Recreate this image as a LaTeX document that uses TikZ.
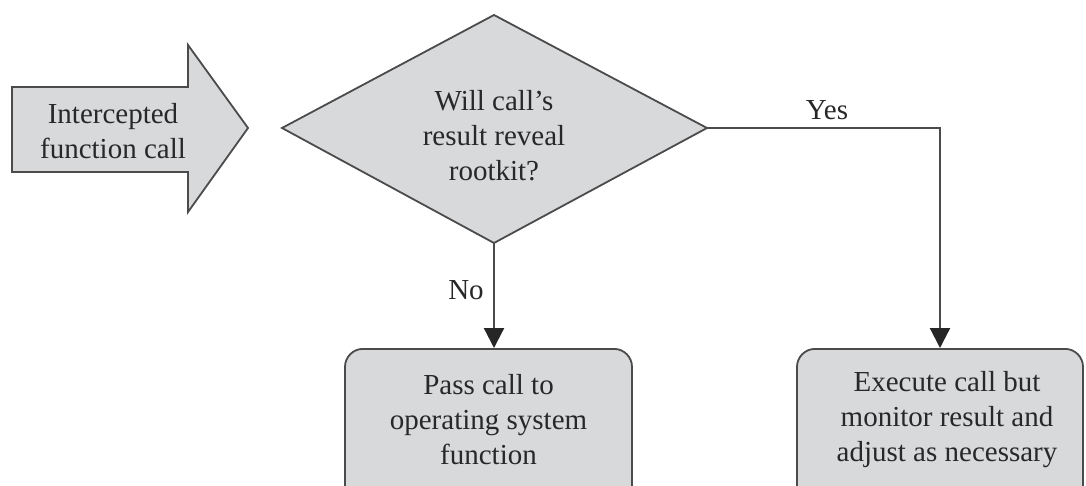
\documentclass[tikz,border=0pt]{standalone}
\usepackage{fontspec}
\setmainfont{Liberation Serif}
\usetikzlibrary{arrows.meta}
\definecolor{shapefill}{RGB}{216,217,219}
\definecolor{edgegray}{RGB}{75,75,75}
\definecolor{textgray}{RGB}{40,40,40}
\begin{document}
\begin{tikzpicture}[x=1pt,y=-1pt,
  shapeline/.style={draw=edgegray, line width=1.8pt, fill=shapefill, line join=miter},
  boxshape/.style={draw=edgegray, line width=1.8pt, fill=shapefill, rounded corners=18pt, inner sep=0pt},
  lbl/.style={font=\fontsize{29}{35}\selectfont, align=center, text=textgray, inner sep=0pt},
  conn/.style={draw=edgegray, line width=2.2pt, -{Triangle[length=20pt,width=20pt,color=black!85]}}]
\useasboundingbox (0,0) rectangle (1086,486);
\fill[white] (0,0) rectangle (1086,486);
% incoming arrow
\draw[shapeline] (12,87) -- (188,87) -- (188,45) -- (248,128) -- (188,212) -- (188,172) -- (12,172) -- cycle;
\node[lbl] (inter) at (113,131) {Intercepted\\function call};
% decision diamond
\coordinate (dtop) at (494,15);
\coordinate (dleft) at (282,128);
\coordinate (dright) at (707,128);
\coordinate (dbot) at (494,243);
\draw[shapeline] (dtop) -- (dright) -- (dbot) -- (dleft) -- cycle;
\node[lbl] (quest) at (494,136) {Will call’s\\result reveal\\rootkit?};
% result boxes
\node[boxshape, minimum width=287pt, minimum height=172pt, anchor=north] (pass) at (488.5,348) {};
\node[lbl] (passtxt) at (488.5,420) {Pass call to\\operating system\\function};
\node[boxshape, minimum width=286pt, minimum height=172pt, anchor=north] (exec) at (940,348) {};
\node[lbl] (exectxt) at (947,420) {Execute call but\\monitor result and\\adjust as necessary};
% connectors
\draw[conn] (dbot) -- (dbot |- pass.north);
\node[lbl] (nolbl) at (466,290) {No};
\draw[conn] (dright) -| (exec.north);
\node[lbl] (yeslbl) at (827,110) {Yes};
\end{tikzpicture}
\end{document}
